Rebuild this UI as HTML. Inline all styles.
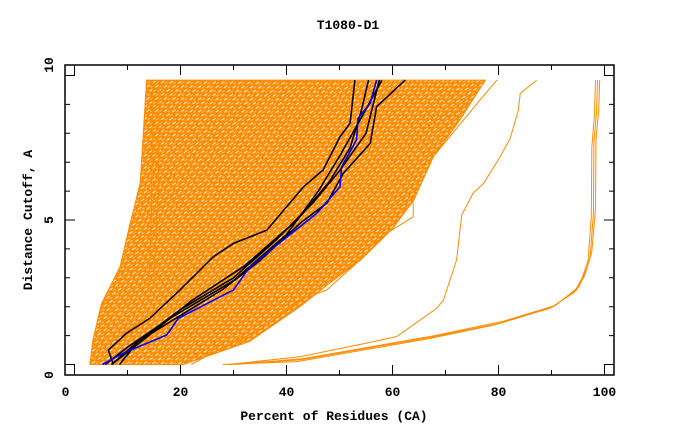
<!DOCTYPE html>
<html><head><meta charset="utf-8"><style>
html,body{margin:0;padding:0;background:#fff}
svg{display:block}
text{font-family:"Liberation Mono",monospace;font-weight:bold;font-size:13px;fill:#000}
</style></head><body>
<svg id="chart" width="680" height="440" viewBox="0 0 680 440">
<defs>
<pattern id="hatch" width="7" height="5" patternUnits="userSpaceOnUse" patternTransform="rotate(-35)">
<rect width="7" height="5" fill="#ff8c00"/>
<rect x="0" y="0" width="4" height="1.1" fill="#ffffff" opacity="0.85"/>
<rect x="3" y="2.5" width="3" height="0.8" fill="#ffffff" opacity="0.6"/>
</pattern>
</defs>
<text x="348" y="29" text-anchor="middle">T1080-D1</text>
<text x="334" y="420" text-anchor="middle">Percent of Residues (CA)</text>
<text transform="translate(32,220) rotate(-90)" text-anchor="middle">Distance Cutoff, A</text>
<g id="plot"></g>
</svg>
<script>
const xTicks=[0,20,40,60,80,100];
const xMinorTicks=[10,30,50,70,90];
const yTicks=[0,5,10];
const yMinorTicks=[1,2,3,4,6,7,8,9];
// envelope of dense orange model bundle: [percent, cutoff]
const bundleLeft=[[2.9,0],[3.5,0.85],[5.1,2.1],[8.6,3.38],[10.5,4.88],[12.4,6.27],[13,8],[13.6,9.84]];
const bundleRight=[[20.5,0],[33,0.8],[42.5,2.0],[48,2.8],[54,3.62],[60,4.7],[64,5.69],[67.7,7.19],[72.7,8.46],[77.5,9.84]];
// individual outlier orange models
const orangeA=[[29,0],[42.5,0.16],[67.7,0.96],[80.3,1.43],[90.3,2.0],[94.75,2.58],[96.3,3.1],[97.3,3.73],[97.9,5.24],[98.0,7.66],[98.5,8.74],[98.7,9.84]];
const orangeB=[[30,0],[43,0.2],[68,1.0],[81,1.5],[90.8,2.05],[95.2,2.7],[96.6,3.3],[97.6,3.9],[98.3,5.4],[98.4,7.8],[98.9,8.8],[99.1,9.84]];
const orangeC=[[28,0],[42,0.1],[67,0.9],[79.5,1.38],[89.8,1.95],[94.3,2.5],[95.8,3.0],[96.9,3.6],[97.5,5.1],[97.6,7.5],[98.1,8.6],[98.3,9.84]];
const orangeD=[[29,0],[42.5,0.27],[55.1,0.74],[60.8,0.97],[68.3,1.94],[69.6,2.23],[72.1,3.62],[73.05,5.17],[75.2,5.93],[77.2,6.27],[80.3,7.19],[82.2,7.83],[83.75,8.8],[84.1,9.38],[87.2,9.84]];
const orangeE=[[22,0],[27,0.5],[35,1.2],[42.5,2.23],[47.6,2.58],[53.9,3.62],[58.9,4.54],[63.9,5.11],[63.9,5.69],[67.7,7.19],[76.5,9.15],[79.7,9.84]];
const orangeF=[[14,2.5],[14.5,5],[14.7,8],[14.8,9.84]];
const orangeG=[[15,3],[15.8,6],[16,9.84]];
const black1=[[7.3,0],[6.4,0.5],[9.8,1.08],[14.2,1.6],[19.9,2.58],[26.2,3.73],[30,4.19],[36.3,4.65],[43.2,6.15],[46.9,6.73],[50.1,7.88],[52,8.35],[52.9,9.84]];
const black2=[[5.8,0],[10,0.6],[18,1.6],[30,2.9],[40,4.5],[46,6],[50,7.2],[54,8.5],[58,9.84]];
const black3=[[8.5,0],[12,0.8],[20,1.9],[30,3.0],[38,4.3],[45,5.6],[50,6.7],[55,8],[57.5,9.84]];
const black4=[[7,0],[12,0.8],[20,1.7],[28,2.6],[35,3.6],[42.5,4.88],[47.6,5.58],[50.7,6.61],[55.8,7.65],[57,8.92],[62.4,9.84]];
const black5=[[7,0],[14,1.0],[22,2.2],[32,3.4],[42,5],[48,6.3],[52,7.5],[54,8.7],[55.5,9.84]];
const blue1=[[5.25,0],[9.2,0.39],[17.4,1.02],[19.6,1.6],[30,2.58],[33.1,3.38],[39.4,4.31],[45.7,5.23],[50.1,6.15],[50.4,6.84],[53.2,7.77],[53.5,8.52],[55.8,9.04],[57,9.84]];

const L=65,R=614,T=65,B=375;
const x0=74.5,xs=5.3,y0=364.5,ys=28.9;
const X=v=>x0+v*xs, Y=v=>y0-v*ys;
const NS="http://www.w3.org/2000/svg";
const g=document.getElementById('plot');
function mk(tag,attrs,parent){const e=document.createElementNS(NS,tag);for(const k in attrs)e.setAttribute(k,attrs[k]);(parent||g).appendChild(e);return e;}
const pts=a=>a.map(p=>X(p[0]).toFixed(1)+','+Y(p[1]).toFixed(1)).join(' ');

const fillPts=bundleLeft.concat(bundleRight.slice().reverse());
const fill=mk('polygon',{points:pts(fillPts),fill:'url(#hatch)',stroke:'#ff8c00','stroke-width':1});



const oranges=[orangeA,orangeB,orangeC,orangeD,orangeE,orangeF,orangeG,bundleLeft,bundleRight];
oranges.forEach((s,i)=>{
  const l=mk('polyline',{points:pts(s),fill:'none',stroke:'#ff8c00','stroke-width':1});
  
  
});
[black1,black2,black3,black4,black5].forEach((s,i)=>{
  const l=mk('polyline',{points:pts(s),fill:'none',stroke:'#000','stroke-width':1.6});
  
  
});
const bl=mk('polyline',{points:pts(blue1),fill:'none',stroke:'#0000ff','stroke-width':1.6});



const frame=mk('rect',{x:L,y:T,width:R-L,height:B-T,fill:'none',stroke:'#000','stroke-width':1.5});



xTicks.forEach(v=>{
  const t=mk('path',{d:`M${X(v)},${B}v-10M${X(v)},${T}v10`,stroke:'#000','stroke-width':1});
  
  
  const lb=mk('text',{x:v===0?X(v)-9:X(v),y:396,'text-anchor':'middle'});
  lb.textContent=v;
  
  
});
xMinorTicks.forEach(v=>{
  const t=mk('path',{d:`M${X(v)},${B}v-5M${X(v)},${T}v5`,stroke:'#000','stroke-width':1});
  
  
});
yTicks.forEach(v=>{
  const t=mk('path',{d:`M${L},${Y(v)}h10M${R},${Y(v)}h-10`,stroke:'#000','stroke-width':1});
  
  
  const ly=375-v*31;
  const lb=mk('text',{transform:`translate(53,${ly}) rotate(-90)`,'text-anchor':'middle'});
  lb.textContent=v;
  
  
});
yMinorTicks.forEach(v=>{
  const t=mk('path',{d:`M${L},${Y(v)}h5M${R},${Y(v)}h-5`,stroke:'#000','stroke-width':1});
  
  
});
</script>
</body></html>
